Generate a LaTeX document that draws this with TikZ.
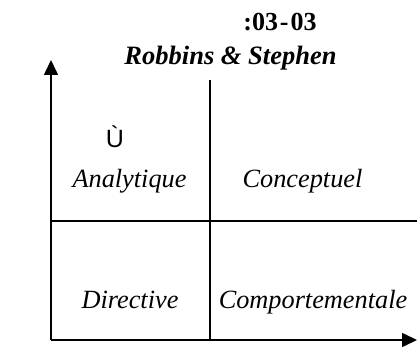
\documentclass[tikz,border=0pt]{standalone}
\usepackage{fontspec}
\setmainfont{Liberation Serif}
\newfontfamily\arl{Liberation Sans}
\usetikzlibrary{arrows.meta}
\tikzset{
  axis/.style={line width=1.6pt,-{Triangle[length=15pt,width=14pt]}},
  grid line/.style={line width=1.6pt},
  quad/.style={anchor=base,inner sep=0pt,font=\itshape\fontsize{26.3}{26.3}\selectfont},
  title/.style={anchor=base,inner sep=0pt}
}
\begin{document}
\begin{tikzpicture}[x=1pt,y=-1pt]
\useasboundingbox (0,0) rectangle (419,347);
\coordinate (o) at (51,340);
\coordinate (ytip) at (51,60);
\coordinate (xtip) at (417,340);
\coordinate (mtop) at (210,80);
\coordinate (mbot) at (210,340);
\coordinate (hl) at (51,221);
\coordinate (hr) at (417,221);
\draw[axis] (o) -- (ytip);
\draw[axis] (o) -- (xtip);
\draw[grid line] (mtop) -- (mbot);
\draw[grid line] (hl) -- (hr);
\node[title,font=\bfseries\fontsize{26}{26}\selectfont] (code) at (280,31) {:03\kern2pt-\kern2pt03};
\node[title,font=\bfseries\itshape\fontsize{26.5}{26.5}\selectfont] (auth) at (230.5,65) {Robbins \& Stephen};
\node[title,font=\arl\fontsize{25}{25}\selectfont] (u) at (115,148) {Ù};
\node[quad] (ana) at (129.5,187) {Analytique};
\node[quad] (con) at (302.5,187) {Conceptuel};
\node[quad] (dir) at (130,308) {Directive};
\node[quad] (com) at (313,308) {Comportementale};
\end{tikzpicture}
\end{document}
